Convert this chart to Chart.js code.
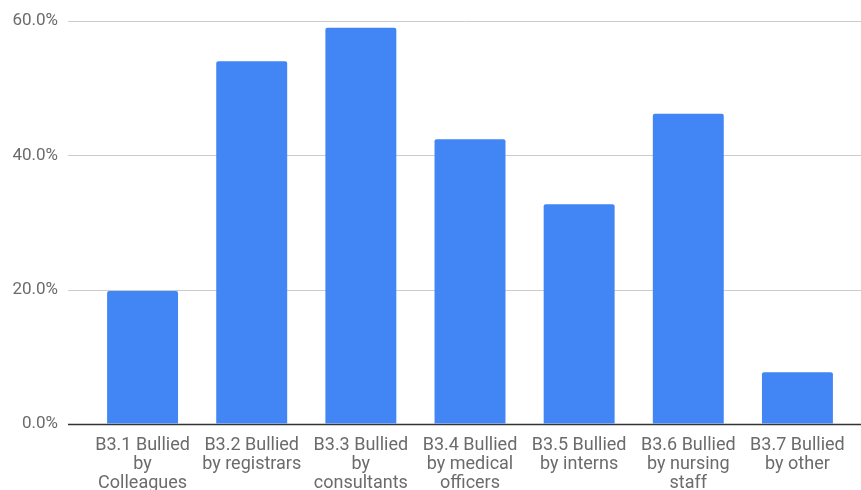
<!DOCTYPE html>
<html>
<head>
<meta charset="utf-8">
<script src="https://cdn.jsdelivr.net/npm/chart.js@4"></script>
<style>
  html, body { margin: 0; padding: 0; background: #fff; }
  #wrap { width: 861px; height: 490px; position: relative; }
</style>
</head>
<body>
<div id="wrap"><canvas id="bullyChart"></canvas></div>
<script>
const categories = [
    ["B3.1 Bullied", "by", "Colleagues"],
    ["B3.2 Bullied", "by registrars"],
    ["B3.3 Bullied", "by", "consultants"],
    ["B3.4 Bullied", "by medical", "officers"],
    ["B3.5 Bullied", "by interns"],
    ["B3.6 Bullied", "by nursing", "staff"],
    ["B3.7 Bullied", "by other"]
];
const percentBullied = [19.8, 54.0, 59.0, 42.4, 32.7, 46.2, 7.7];
const yTicks = [0, 20, 40, 60];

// horizontal grid lines run from just right of the tick labels to the canvas edge
const gridToEdge = {
    id: 'gridToEdge',
    beforeDatasetsDraw(chart) {
        const { ctx, chartArea, scales } = chart;
        ctx.save();
        yTicks.forEach(function (t) {
            const y = Math.round(scales.y.getPixelForValue(t)) + 0.5;
            ctx.strokeStyle = t === 0 ? '#333333' : '#cccccc';
            ctx.lineWidth = t === 0 ? 1.5 : 1;
            ctx.beginPath();
            ctx.moveTo(chartArea.left - 20, y);
            ctx.lineTo(chart.width, y);
            ctx.stroke();
        });
        ctx.restore();
    }
};

document.addEventListener("DOMContentLoaded", function () {
    const ctx = document.getElementById('bullyChart').getContext('2d');
    new Chart(ctx, {
        type: 'bar',
        data: {
            labels: categories,
            datasets: [{
                data: percentBullied,
                backgroundColor: '#4285F4',
                borderRadius: { topLeft: 2, topRight: 2 },
                borderSkipped: 'bottom',
                barPercentage: 0.65,
                categoryPercentage: 1.0
            }]
        },
        options: {
            responsive: true,
            maintainAspectRatio: false,
            animation: false,
            layout: { padding: { top: 21, right: 9, left: 0, bottom: 0 } },
            plugins: {
                legend: { display: false },
                tooltip: { enabled: false }
            },
            scales: {
                x: {
                    afterFit: function (scale) { scale.height = 66; },
                    grid: { display: false },
                    border: { display: false },
                    ticks: {
                        color: '#6b6b6b',
                        font: { family: 'Roboto', size: 18, lineHeight: 1.06 },
                        maxRotation: 0,
                        autoSkip: false,
                        padding: 4
                    }
                },
                y: {
                    min: 0,
                    max: 60,
                    afterBuildTicks: function (scale) {
                        scale.ticks = yTicks.map(v => ({ value: v }));
                    },
                    afterFit: function (scale) { scale.width = 88; },
                    border: { display: false },
                    grid: {
                        color: 'rgba(0,0,0,0)',
                        drawTicks: true,
                        tickLength: 20
                    },
                    ticks: {
                        color: '#6b6b6b',
                        font: { family: 'Roboto', size: 17 },
                        padding: 10,
                        callback: v => v.toFixed(1) + '%'
                    }
                }
            }
        },
        plugins: [gridToEdge]
    });
});
</script>
</body>
</html>
